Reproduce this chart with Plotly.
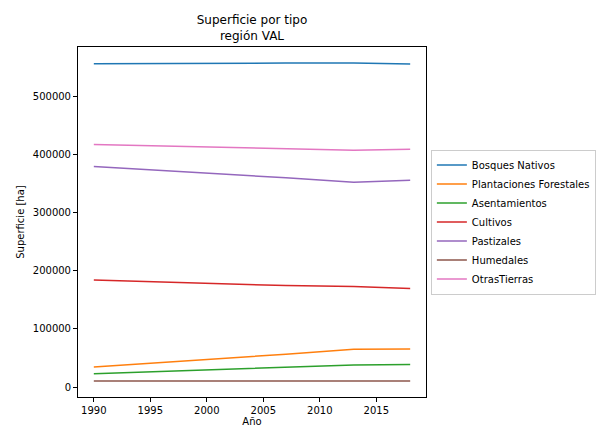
import plotly.graph_objects as go

# Años de los catastros
anios = [1990, 2001, 2007, 2013, 2018]

# Superficie por tipo de uso de suelo [ha]
bosques_nativos = [556000, 556000, 557200, 557500, 555500]
plantaciones_forestales = [34500, 48000, 56500, 65000, 65500]
asentamientos = [23000, 30000, 34500, 38000, 39000]
cultivos = [184000, 177500, 174500, 173000, 169500]
pastizales = [379300, 367500, 360000, 352300, 355700]
humedales = [10500, 10400, 10300, 10300, 10300]
otras_tierras = [417000, 413000, 410000, 407500, 409000]

series = [
    ("Bosques Nativos", bosques_nativos, "#1f77b4"),
    ("Plantaciones Forestales", plantaciones_forestales, "#ff7f0e"),
    ("Asentamientos", asentamientos, "#2ca02c"),
    ("Cultivos", cultivos, "#d62728"),
    ("Pastizales", pastizales, "#9467bd"),
    ("Humedales", humedales, "#8c564b"),
    ("OtrasTierras", otras_tierras, "#e377c2"),
]

fig = go.Figure()
for nombre, valores, color in series:
    fig.add_trace(go.Scatter(
        x=anios, y=valores, name=nombre, mode="lines",
        line=dict(color=color, width=1.5),
    ))

font = "DejaVu Sans, Arial, sans-serif"
axis_common = dict(
    showgrid=False, zeroline=False, showline=True, mirror=True,
    linecolor="#000000", linewidth=1, ticks="outside", ticklen=4,
    tickcolor="#000000", tickfont=dict(size=10, color="#000000", family=font),
)

todos = [v for _, vals, _ in series for v in vals]
ymin, ymax = min(todos), max(todos)
pad = 0.05 * (ymax - ymin)

fig.update_layout(
    width=596, height=428,
    margin=dict(l=78, r=170, t=47, b=31, autoexpand=False),
    paper_bgcolor="white", plot_bgcolor="white",
    font=dict(family=font, color="#000000"),
    title=dict(
        text="Superficie por tipo<br>región VAL",
        x=(78 + 174) / 596, xanchor="center",
        yref="container", y=(428 - 24) / 428, yanchor="bottom",
        font=dict(size=12, family=font, color="#000000"),
    ),
    xaxis=dict(
        **axis_common, range=[1988.6, 2019.4], dtick=5, tick0=1990,
        title=dict(text="Año", font=dict(size=10, family=font), standoff=2),
    ),
    yaxis=dict(
        **axis_common, range=[ymin - pad, ymax + pad], dtick=100000,
        tickformat="d",
        title=dict(text="Superficie [ha]", font=dict(size=10, family=font), standoff=6),
    ),
    legend=dict(
        x=1.014, xanchor="left", y=0.5, yanchor="middle",
        bordercolor="#cccccc", borderwidth=1,
        font=dict(size=10, family=font, color="#000000"),
        tracegroupgap=0,
    ),
)

fig.write_html("out.html")
